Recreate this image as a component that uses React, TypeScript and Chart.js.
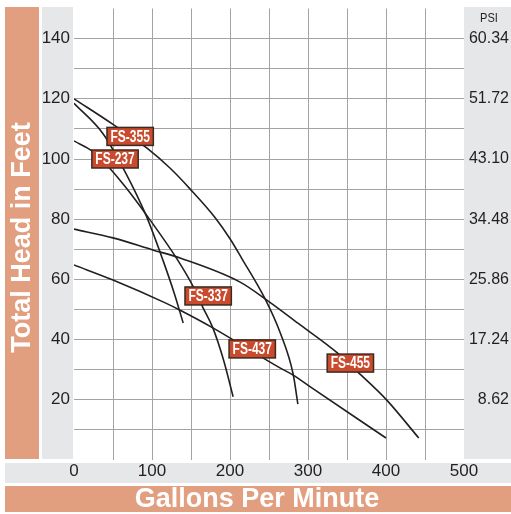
import React, { useEffect, useRef } from 'react';
import { Chart, registerables } from 'chart.js';

Chart.register(...registerables);

// ---- data (gallons per minute vs total head in feet) ----
const fs355Gpm = [0, 50, 94, 123, 149, 181, 200, 215, 245, 264, 281, 287];
const fs355Head = [120, 111.5, 103.5, 97, 90, 80.5, 73.5, 67, 53.5, 42.5, 28.5, 18.6];

const fs237Gpm = [0, 37, 65, 92, 114, 129, 140];
const fs237Head = [118.5, 108.5, 96, 81.5, 66.4, 55, 45.5];

const fs337Gpm = [0, 24, 42, 65, 94, 133, 153, 165, 178, 192, 204];
const fs337Head = [106, 102.5, 98, 91, 81, 66.4, 57.5, 50.8, 43.9, 33, 21];

const fs437Gpm = [0, 50, 117, 138, 178, 264, 281, 303, 400];
const fs437Head = [64.8, 59.8, 52.2, 49.5, 43.9, 30.6, 28.2, 24.3, 7.3];

const fs455Gpm = [0, 50, 101, 136, 213, 249, 290, 338, 364, 401, 442];
const fs455Head = [76.7, 73.8, 69.8, 67.1, 59.1, 52.8, 44.9, 35.5, 29.2, 19.9, 7.3];

const seriesNames = ['FS-355', 'FS-237', 'FS-337', 'FS-437', 'FS-455'];
const seriesGpm = [fs355Gpm, fs237Gpm, fs337Gpm, fs437Gpm, fs455Gpm];
const seriesHead = [fs355Head, fs237Head, fs337Head, fs437Head, fs455Head];

// label tags anchored in data units
const tagGpm = [72, 52.6, 172, 228.5, 354.3];
const tagHead = [107.5, 100, 54.5, 36.9, 32.2];

const headTicks = [20, 40, 60, 80, 100, 120, 140];
const psiTicks = ['8.62', '17.24', '25.86', '34.48', '43.10', '51.72', '60.34'];
const gpmTicks = [0, 100, 200, 300, 400, 500];

const xTitle = 'Gallons Per Minute';
const yTitle = 'Total Head in Feet';
const y2Title = 'PSI';

const ORANGE = '#e29f80';
const PANEL = '#e6e7e8';
const GRID = '#a3a3a3';
const INK = '#231f20';
const TAG = '#c94a2c';
const SANS = "'Liberation Sans', Arial, sans-serif";

const decor = {
  id: 'decor',
  beforeDraw(chart: any) {
    const { ctx, chartArea: a, width } = chart;
    ctx.save();
    ctx.fillStyle = '#ffffff';
    ctx.fillRect(0, 0, chart.width, chart.height);
    // left orange bar
    ctx.fillStyle = ORANGE;
    ctx.fillRect(5, 7, 34, a.bottom - 8);
    // left grey tick panel
    ctx.fillStyle = PANEL;
    ctx.fillRect(42, 7, a.left - 43, a.bottom - 8);
    // right grey panel
    ctx.fillRect(a.right, 7, width - a.right, a.bottom - 8);
    // bottom grey band
    ctx.fillRect(5, a.bottom + 3, width - 5, 20);
    // bottom orange band
    ctx.fillStyle = ORANGE;
    ctx.fillRect(5, a.bottom + 26, width - 5, 26);

    // titles
    ctx.fillStyle = '#ffffff';
    ctx.font = `bold 27px ${SANS}`;
    ctx.textAlign = 'center';
    ctx.textBaseline = 'middle';
    ctx.fillText(xTitle, 257, a.bottom + 40);
    ctx.save();
    ctx.translate(23, (7 + a.bottom) / 2 + 4);
    ctx.rotate(-Math.PI / 2);
    ctx.fillText(yTitle, 0, 0);
    ctx.restore();

    ctx.fillStyle = INK;
    ctx.font = `13px ${SANS}`;
    ctx.save();
    ctx.translate(489, 18);
    ctx.scale(0.85, 1);
    ctx.fillText(y2Title, 0, 0);
    ctx.restore();
    ctx.restore();
  },
  afterDatasetsDraw(chart: any) {
    const { ctx } = chart;
    const xs = chart.scales.x;
    const ys = chart.scales.y;
    ctx.save();
    ctx.font = `bold 16px ${SANS}`;
    ctx.textAlign = 'center';
    ctx.textBaseline = 'middle';
    const squeeze = 0.75;
    seriesNames.forEach((name, i) => {
      const cx = xs.getPixelForValue(tagGpm[i]);
      const cy = ys.getPixelForValue(tagHead[i]);
      const w = ctx.measureText(name).width * squeeze + 7;
      const h = 18;
      ctx.fillStyle = TAG;
      ctx.fillRect(cx - w / 2, cy - h / 2, w, h);
      ctx.strokeStyle = '#3a2a22';
      ctx.lineWidth = 1.5;
      ctx.strokeRect(cx - w / 2, cy - h / 2, w, h);
      ctx.save();
      ctx.translate(cx, cy + 1);
      ctx.scale(squeeze, 1);
      ctx.fillStyle = '#ffffff';
      ctx.fillText(name, 0, 0);
      ctx.restore();
    });
    ctx.restore();
  },
};

export default function App() {
  const ref = useRef<HTMLCanvasElement>(null);
  useEffect(() => {
    const datasets = seriesNames.map((name, i) => ({
      label: name,
      data: seriesGpm[i].map((g, j) => ({ x: g, y: seriesHead[i][j] })),
      borderColor: INK,
      borderWidth: 1.6,
      pointRadius: 0,
      showLine: true,
      fill: false,
      cubicInterpolationMode: 'monotone' as const,
    }));
    const gridColor = (lo: number, hi: number) => (c: any) =>
      c.tick && (c.tick.value === lo || c.tick.value === hi) ? 'rgba(0,0,0,0)' : GRID;
    const tickFont = { family: SANS, size: 17 };
    const chart = new Chart(ref.current!, {
      type: 'scatter',
      data: { datasets },
      plugins: [decor],
      options: {
        animation: false,
        responsive: true,
        maintainAspectRatio: false,
        layout: { padding: { top: 8.5, left: 0, right: 2, bottom: 0 } },
        plugins: { legend: { display: false }, tooltip: { enabled: false } },
        scales: {
          x: {
            type: 'linear',
            min: 0,
            max: 500,
            ticks: {
              stepSize: 50,
              autoSkip: false,
              maxRotation: 0,
              padding: 1,
              color: INK,
              font: tickFont,
              callback: (v: any) => (gpmTicks.includes(v) ? String(v) : ''),
            },
            grid: { color: gridColor(0, 500), drawTicks: false, lineWidth: 1 },
            border: { display: false },
            afterFit: (s: any) => {
              s.height = 54;
              s.paddingLeft = 0;
              s.paddingRight = 0;
            },
          },
          y: {
            type: 'linear',
            position: 'left',
            min: 0,
            max: 150,
            ticks: {
              stepSize: 10,
              autoSkip: false,
              padding: 4,
              color: INK,
              font: tickFont,
              callback: (v: any) => (headTicks.includes(v) ? String(v) : ''),
            },
            grid: { color: gridColor(0, 150), drawTicks: false, lineWidth: 1 },
            border: { display: false },
            afterFit: (s: any) => {
              s.width = 74;
              s.paddingTop = 0;
              s.paddingBottom = 0;
            },
          },
          y2: {
            type: 'linear',
            position: 'right',
            min: 0,
            max: 150,
            ticks: {
              stepSize: 10,
              autoSkip: false,
              crossAlign: 'far',
              color: INK,
              font: { family: SANS, size: 16 },
              callback: (v: any) => {
                const k = headTicks.indexOf(v);
                return k >= 0 ? psiTicks[k] : '';
              },
            },
            grid: { display: false, drawTicks: false },
            border: { display: false },
            afterFit: (s: any) => {
              s.width = 45;
              s.paddingTop = 0;
              s.paddingBottom = 0;
            },
          },
        },
      },
    });
    return () => chart.destroy();
  }, []);
  return (
    <div style={{ position: 'absolute', left: 0, top: 0, width: 511, height: 514 }}>
      <canvas ref={ref} />
    </div>
  );
}
